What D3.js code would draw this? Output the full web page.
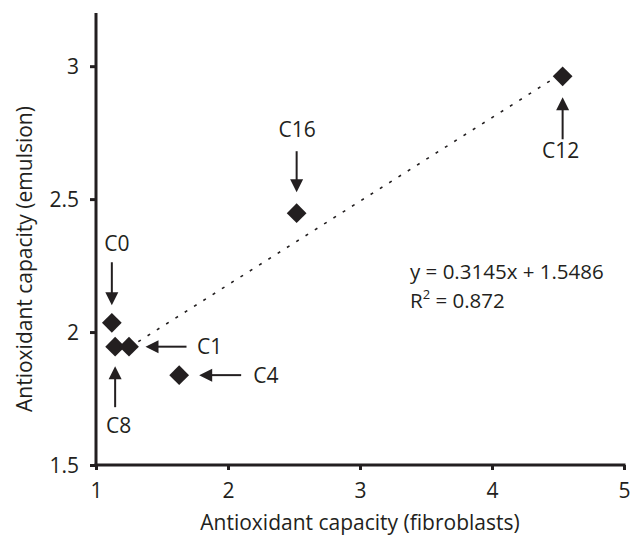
<!DOCTYPE html>
<html>
<head>
<meta charset="utf-8">
<script src="https://cdn.jsdelivr.net/npm/d3@7"></script>
<style>
  body { margin: 0; background: #fff; }
  svg text { font-family: "Open Sans", sans-serif; fill: #231f20; }
</style>
</head>
<body>
<div id="chart"></div>
<script>
// samples and their measured antioxidant capacities
const labels = ["C0", "C8", "C1", "C4", "C16", "C12"];
const fibroblasts = [1.12, 1.145, 1.25, 1.63, 2.52, 4.535];
const emulsion = [2.035, 1.945, 1.945, 1.838, 2.447, 2.962];

const xTicks = [1, 2, 3, 4, 5];
const yTicks = [1.5, 2, 2.5, 3];

// fitted trend line (drawn over the range Excel shows it)
const slope = 0.3145;
const intercept = 1.5486;
const trendRange = [1.25, 4.535];
const eqText = "y = 0.3145x + 1.5486";
const r2Text = "0.872";

// arrow callouts: pointing direction, gap from marker, arrow length, label offset
const callout = {
  C0:  {dir: "down", gap: 17.5, len: 43, lx: 5,   ly: -79},
  C8:  {dir: "up",   gap: 19.5, len: 41, lx: 3.5, ly: 79},
  C1:  {dir: "left", gap: 16.5, len: 41, lx: 68,  ly: 0},
  C4:  {dir: "left", gap: 20,   len: 42, lx: 74,  ly: 0},
  C16: {dir: "down", gap: 21,   len: 41, lx: 0.5, ly: -83.5},
  C12: {dir: "up",   gap: 21,   len: 42, lx: -2,  ly: 74}
};

const W = 631, H = 535;
const margin = {top: 13, right: 7, bottom: 70, left: 96};
const ink = "#231f20";
const fs = 21;

const svg = d3.select("#chart")
  .append("svg")
  .attr("width", W)
  .attr("height", H);

const x = d3.scaleLinear().domain([1, 5]).range([margin.left, W - margin.right]);
const y = d3.scaleLinear().domain([1.5, 3.2]).range([H - margin.bottom, margin.top]);

// axes
const xAxis = svg.append("g")
  .attr("transform", `translate(0,${y(1.5)})`)
  .call(d3.axisBottom(x).tickValues(xTicks).tickFormat(d3.format("d")).tickSize(5).tickPadding(13));
const yAxis = svg.append("g")
  .attr("transform", `translate(${x(1)},0)`)
  .call(d3.axisLeft(y).tickValues(yTicks).tickFormat(d => d).tickSize(6).tickPadding(11));

[xAxis, yAxis].forEach(g => {
  g.select(".domain").attr("stroke", ink).attr("stroke-width", 3);
  g.selectAll(".tick line").attr("stroke", ink).attr("stroke-width", 3);
  g.selectAll(".tick text").attr("font-size", fs).attr("fill", ink);
});
yAxis.selectAll(".tick text").attr("dy", "0.36em");
// y axis runs past its last tick up to the top of the domain
yAxis.select(".domain").attr("d", `M-0,${y(3.2)}V${y(1.5)}`);
xAxis.select(".domain").attr("d", `M${x(1) - 1.5},0H${x(5) + 1.5}`);

// axis titles
svg.append("text")
  .attr("x", (x(1) + x(5)) / 2)
  .attr("y", 530)
  .attr("text-anchor", "middle")
  .attr("font-size", fs)
  .text("Antioxidant capacity (fibroblasts)");

svg.append("text")
  .attr("transform", `translate(32,${(y(1.5) + y(3.2)) / 2 + 20}) rotate(-90)`)
  .attr("text-anchor", "middle")
  .attr("font-size", fs)
  .text("Antioxidant capacity (emulsion)");

// trend line
svg.append("line")
  .attr("x1", x(trendRange[0])).attr("y1", y(slope * trendRange[0] + intercept))
  .attr("x2", x(trendRange[1])).attr("y2", y(slope * trendRange[1] + intercept))
  .attr("stroke", ink)
  .attr("stroke-width", 1.6)
  .attr("stroke-dasharray", "3,8");

// diamonds
const pts = labels.map((l, i) => ({label: l, fx: fibroblasts[i], em: emulsion[i]}));

svg.selectAll("path.pt")
  .data(pts)
  .enter()
  .append("path")
  .attr("class", "pt")
  .attr("d", d3.symbol(d3.symbolSquare, 195))
  .attr("transform", d => `translate(${x(d.fx)},${y(d.em)}) rotate(45)`)
  .attr("fill", ink);

// arrows and labels
const head = 13, halfHead = 6.5;
const rotFor = {up: 0, down: 180, left: -90};

const ann = svg.selectAll("g.ann")
  .data(pts)
  .enter()
  .append("g")
  .attr("class", "ann")
  .attr("transform", d => `translate(${x(d.fx)},${y(d.em)})`);

ann.each(function(d) {
  const c = callout[d.label];
  const g = d3.select(this);
  // arrow drawn below the marker pointing up, then rotated into place
  const a = g.append("g").attr("transform", `rotate(${rotFor[c.dir]})`);
  a.append("line")
    .attr("x1", 0).attr("y1", c.gap + head - 1)
    .attr("x2", 0).attr("y2", c.gap + c.len)
    .attr("stroke", ink).attr("stroke-width", 2);
  a.append("path")
    .attr("d", `M0,${c.gap}L${halfHead},${c.gap + head}L${-halfHead},${c.gap + head}Z`)
    .attr("fill", ink);

  g.append("text")
    .attr("font-size", fs)
    .attr("x", c.lx)
    .attr("y", c.ly)
    .attr("dy", "0.36em")
    .attr("text-anchor", c.dir === "left" ? "start" : "middle")
    .text(d.label);
});

// regression equation
svg.append("text")
  .attr("x", 410)
  .attr("y", 279)
  .attr("font-size", 20.5)
  .text(eqText);

const r2 = svg.append("text")
  .attr("x", 410)
  .attr("y", 307.5)
  .attr("font-size", 20.5);
r2.append("tspan").text("R");
r2.append("tspan").attr("font-size", 13).attr("dy", -9).text("2");
r2.append("tspan").attr("dy", 9).text(" = " + r2Text);
</script>
</body>
</html>
